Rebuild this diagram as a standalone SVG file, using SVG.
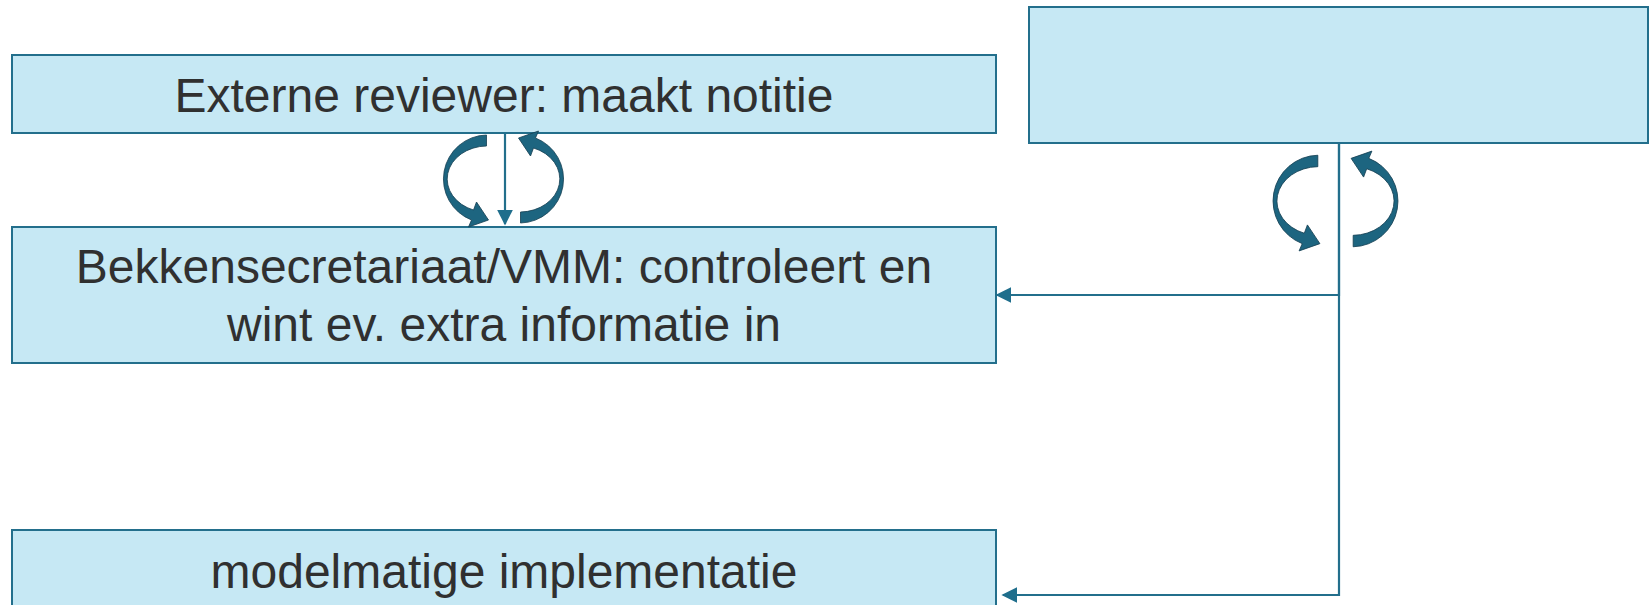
<svg xmlns="http://www.w3.org/2000/svg" width="1651" height="605" viewBox="0 0 1651 605">
  <style>
    .box { fill: #c6e8f4; stroke: #236f8c; stroke-width: 2; }
    .lbl { font-family: "Liberation Sans", Arial, sans-serif; font-size: 48px; fill: #303030; text-anchor: middle; }
    .conn { fill: none; stroke: #236f8c; stroke-width: 2.2; }
    .cyc { fill: #1d6580; stroke: #153f52; stroke-width: 0.8; }
  </style>
  <defs>
    <marker id="ah" viewBox="0 0 10 10" refX="9" refY="5" markerWidth="16" markerHeight="16" markerUnits="userSpaceOnUse" orient="auto">
      <path d="M0,0 L10,5 L0,10 Z" fill="#1f6e8c"/>
    </marker>
    <path id="carc" class="cyc" d="M-17,-44 A44 44 0 0 0 -32,41 L-35,48 L-15,41 L-27,23 L-30,31 A40 33 0 0 1 -17,-33 Z"/>
  </defs>
  <rect width="1651" height="605" fill="#ffffff"/>

  <g id="node-externe">
    <rect class="box" x="12" y="55" width="984" height="78"/>
    <text class="lbl" x="504" y="112">Externe reviewer: maakt notitie</text>
  </g>
  <g id="node-bekken">
    <rect class="box" x="12" y="227" width="984" height="136"/>
    <text class="lbl" x="504" y="283">Bekkensecretariaat/VMM: controleert en</text>
    <text class="lbl" x="504" y="341">wint ev. extra informatie in</text>
  </g>
  <g id="node-top-right">
    <rect class="box" x="1029" y="7" width="619" height="136"/>
  </g>
  <g id="node-model">
    <rect class="box" x="12" y="530" width="984" height="100"/>
    <text class="lbl" x="504" y="588">modelmatige implementatie</text>
  </g>

  <g id="cycle-left">
    <use href="#carc" transform="translate(503.5,179)"/>
    <use href="#carc" transform="translate(503.5,179) rotate(180)"/>
  </g>
  <g id="cycle-right">
    <use href="#carc" transform="translate(1335.5,201) scale(1.04)"/>
    <use href="#carc" transform="translate(1335.5,201) scale(1.04) rotate(180)"/>
  </g>

  <g id="connectors">
    <path class="conn" d="M505,133 V224" marker-end="url(#ah)"/>
    <path class="conn" d="M1339,143 V295 H997" marker-end="url(#ah)"/>
    <path class="conn" d="M1339,143 V595 H1003" marker-end="url(#ah)"/>
  </g>
</svg>
